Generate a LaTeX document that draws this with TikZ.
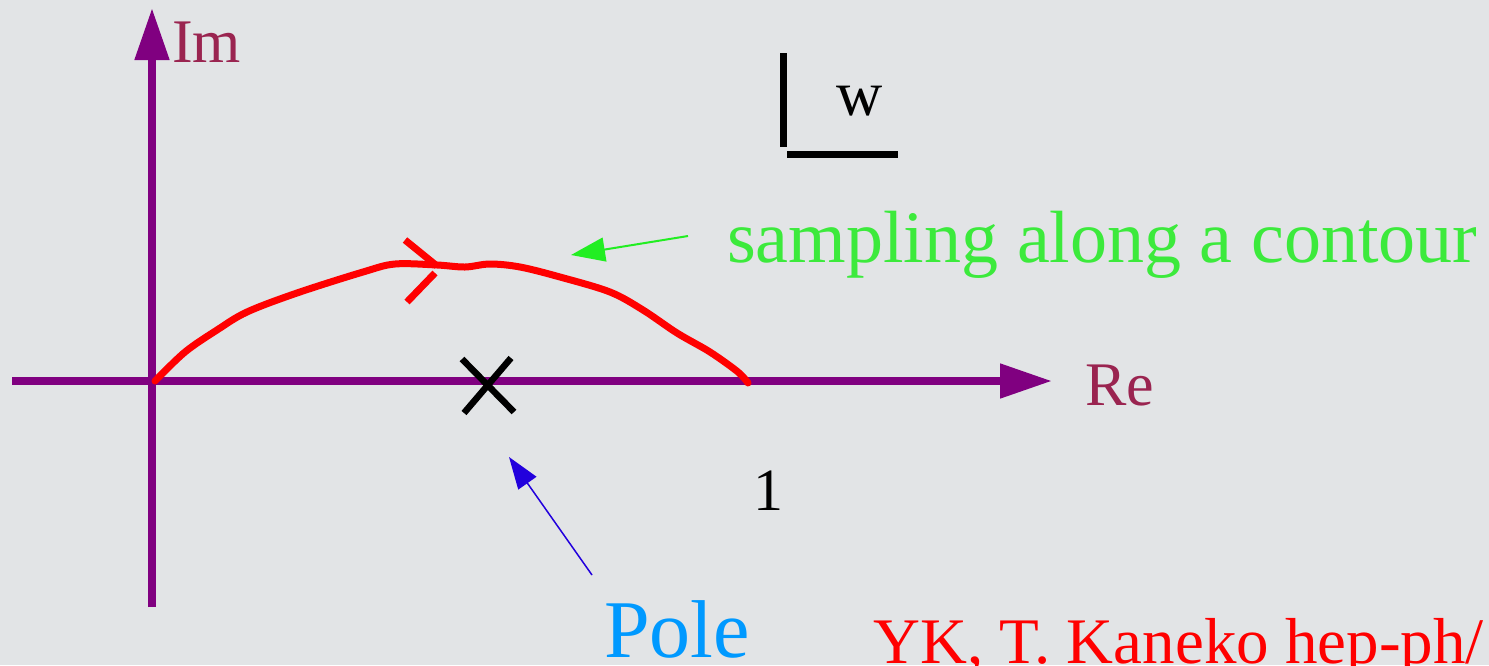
\documentclass[tikz,border=0pt]{standalone}
\usepackage{fontspec}
\setmainfont{Liberation Serif}
\usetikzlibrary{arrows.meta}
\definecolor{bg}{HTML}{E2E4E6}
\definecolor{axiscol}{HTML}{800080}
\definecolor{labcol}{HTML}{9A2450}
\definecolor{greencol}{HTML}{3CEA3C}
\definecolor{greenarr}{HTML}{22EE22}
\definecolor{polecol}{HTML}{0099FF}
\definecolor{bluearr}{HTML}{2200DD}
\definecolor{redcol}{HTML}{FF0000}
\tikzset{
  axisline/.style={draw=axiscol, fill=axiscol, line width=8pt, -{Triangle[length=52pt,width=33pt]}},
  axlab/.style={text=labcol, anchor=base west, inner sep=0pt, font=\fontsize{62}{70}\selectfont},
  txt/.style={anchor=base west, inner sep=0pt},
  contour/.style={draw=redcol, line width=7pt},
  blk/.style={draw=black, line width=6.5pt},
}
\begin{document}
\begin{tikzpicture}[x=1pt,y=-1pt]
\useasboundingbox (0,0) rectangle (1489,665);
\fill[bg] (0,0) rectangle (1489,665);
\clip (0,0) rectangle (1489,665);
% axes
\coordinate (reS) at (12,381);
\coordinate (reE) at (1052,381);
\coordinate (imS) at (152,607);
\coordinate (imE) at (152,8);
\draw[axisline] (reS) -- (reE);
\draw[axisline] (imS) -- (imE);
\node[axlab] (im) at (172,62) {Im};
\node[axlab] (re) at (1085,405) {Re};
% w bracket
\coordinate (wa) at (783,53);
\coordinate (wb) at (783,147);
\coordinate (wc) at (787,154);
\coordinate (wd) at (898,154);
\draw[blk, line width=7pt] (wa) -- (wb);
\draw[blk, line width=7pt] (wc) -- (wd);
\node[txt, font=\fontsize{64}{70}\selectfont] (w) at (836,115) {w};
% contour
\draw[contour, line cap=round] plot[smooth, tension=0.55] coordinates {(155,381) (185,352) (217,330) (247,312) (297,293) (363,272) (395,264) (437,265) (465,267) (490,264) (520,267) (560,277) (610,292) (643,310) (677,333) (710,352) (738,372) (748,383)};
\coordinate (c1) at (405,240);
\coordinate (c2) at (437,266);
\coordinate (c3) at (435,273);
\coordinate (c4) at (407,302);
\draw[contour] (c1) -- (c2);
\draw[contour] (c3) -- (c4);
% pole
\coordinate (p1) at (462,359);
\coordinate (p2) at (514,412);
\coordinate (p3) at (464,413);
\coordinate (p4) at (511,358);
\draw[blk] (p1) -- (p2);
\draw[blk] (p3) -- (p4);
% labels
\node[txt, text=greencol, font=\fontsize{74}{80}\selectfont] (samp) at (727,262) {sampling along a contour};
\coordinate (gs) at (688,236);
\coordinate (ge) at (571,255);
\draw[draw=greenarr, fill=greenarr, line width=2pt, -{Triangle[length=34pt,width=24pt]}] (gs) -- (ge);
\node[txt, font=\fontsize{60}{66}\selectfont] (one) at (753,510) {1};
\node[txt, text=polecol, font=\fontsize{82}{90}\selectfont] (pole) at (604,657) {Pole};
\coordinate (bs) at (592,575);
\coordinate (be) at (509,457);
\draw[draw=bluearr, fill=bluearr, line width=1.5pt, -{Triangle[length=32pt,width=22pt]}] (bs) -- (be);
\node[txt, text=redcol, font=\fontsize{65}{70}\selectfont] (ref) at (873,663) {YK, T. Kaneko hep-ph/};
\end{tikzpicture}
\end{document}
